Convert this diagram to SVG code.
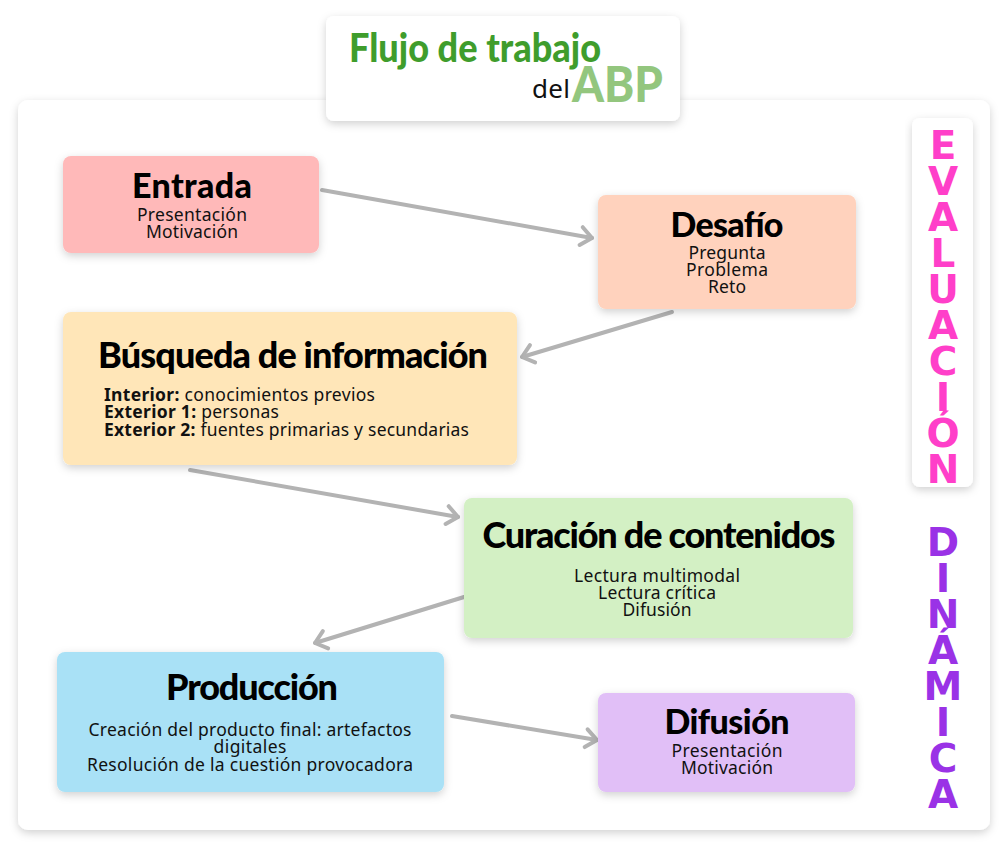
<svg xmlns="http://www.w3.org/2000/svg" width="1000" height="849" viewBox="0 0 1000 849">
<defs>
<filter id="sh" x="-10%" y="-10%" width="120%" height="130%">
<feDropShadow dx="0" dy="3" stdDeviation="4" flood-color="#000" flood-opacity="0.18"/>
</filter>
<marker id="arr" markerUnits="userSpaceOnUse" markerWidth="24" markerHeight="24" viewBox="0 0 24 24" refX="17" refY="12" orient="auto">
<path d="M6,3 L17,12 L6,21" fill="none" stroke="#b3b3b3" stroke-width="4" stroke-linecap="round" stroke-linejoin="round"/>
</marker>
</defs>
<style>
.box{filter:url(#sh)}
.t{font-family:Lato,"Noto Sans",sans-serif;font-weight:900;fill:#000;text-anchor:middle}
.b{font-family:"Noto Sans",sans-serif;font-weight:400;font-size:17.5px;fill:#111;text-anchor:middle}
.bl{font-family:"Noto Sans",sans-serif;font-weight:400;font-size:17.5px;fill:#111}
.k{font-weight:700}
.v{font-family:"DejaVu Sans",sans-serif;font-weight:700;font-size:39px;text-anchor:middle}
.c{fill:none;stroke:#b3b3b3;stroke-width:4;stroke-linecap:round;marker-end:url(#arr)}
</style>
<rect width="1000" height="849" fill="#ffffff"/>
<rect x="18" y="100" width="972" height="730" rx="10" fill="#ffffff" class="box"/>

<g id="title">
<rect x="326" y="16" width="354" height="105" rx="8" fill="#ffffff" class="box"/>
<text x="349" y="62" font-family="Lato,'Noto Sans',sans-serif" font-weight="900" font-size="40" fill="#3f9d2c" textLength="252" lengthAdjust="spacingAndGlyphs">Flujo de trabajo</text>
<text x="532" y="98" font-family="'Noto Sans',sans-serif" font-weight="400" font-size="26" fill="#111" textLength="38">del</text>
<text x="572" y="102" font-family="Lato,'Noto Sans',sans-serif" font-weight="900" font-size="50" fill="#93c67e" textLength="91" lengthAdjust="spacingAndGlyphs">ABP</text>
</g>

<g id="connectors">
<line class="c" x1="322" y1="190" x2="592" y2="238"/>
<line class="c" x1="672" y1="312" x2="522" y2="357"/>
<line class="c" x1="190" y1="470" x2="458" y2="517"/>
<line class="c" x1="464" y1="597" x2="315" y2="643"/>
<line class="c" x1="452" y1="716" x2="597" y2="740"/>
</g>

<g id="entrada">
<rect x="63" y="156" width="256" height="97" rx="8" fill="#ffb9b9" class="box"/>
<text class="t" x="192" y="198" font-size="34" textLength="120">Entrada</text>
<text class="b" x="192" y="221" textLength="110">Presentación</text>
<text class="b" x="192" y="238" textLength="92">Motivación</text>
</g>

<g id="desafio">
<rect x="598" y="195" width="258" height="114" rx="8" fill="#ffd2bd" class="box"/>
<text class="t" x="727" y="237" font-size="34" textLength="113">Desafío</text>
<text class="b" x="727" y="259" textLength="77">Pregunta</text>
<text class="b" x="727" y="276" textLength="82">Problema</text>
<text class="b" x="727" y="293" textLength="38">Reto</text>
</g>

<g id="busqueda">
<rect x="63" y="312" width="454" height="153" rx="8" fill="#ffe6b8" class="box"/>
<text class="t" x="293" y="368" font-size="36" textLength="390">Búsqueda de información</text>
<text class="bl" x="104" y="401" textLength="271"><tspan class="k">Interior:</tspan> conocimientos previos</text>
<text class="bl" x="104" y="418" textLength="175"><tspan class="k">Exterior 1:</tspan> personas</text>
<text class="bl" x="104" y="436" textLength="365"><tspan class="k">Exterior 2:</tspan> fuentes primarias y secundarias</text>
</g>

<g id="curacion">
<rect x="464" y="498" width="389" height="140" rx="8" fill="#d3f0c4" class="box"/>
<text class="t" x="659" y="548" font-size="36" textLength="353">Curación de contenidos</text>
<text class="b" x="657" y="582" textLength="166">Lectura multimodal</text>
<text class="b" x="657" y="599" textLength="118">Lectura crítica</text>
<text class="b" x="657" y="616" textLength="69">Difusión</text>
</g>

<g id="produccion">
<rect x="57" y="652" width="387" height="140" rx="8" fill="#a9e1f6" class="box"/>
<text class="t" x="252" y="700" font-size="36" textLength="172">Producción</text>
<text class="b" x="250" y="736" textLength="323">Creación del producto final: artefactos</text>
<text class="b" x="250" y="753" textLength="73">digitales</text>
<text class="b" x="250" y="771" textLength="326">Resolución de la cuestión provocadora</text>
</g>

<g id="difusion">
<rect x="598" y="693" width="257" height="99" rx="8" fill="#e1bff7" class="box"/>
<text class="t" x="727" y="734" font-size="34" textLength="125">Difusión</text>
<text class="b" x="727" y="757" textLength="111">Presentación</text>
<text class="b" x="727" y="774" textLength="92">Motivación</text>
</g>

<g id="evaluacion">
<rect x="912" y="118" width="61" height="369" rx="8" fill="#ffffff" class="box"/>
<g class="v" fill="#ff3fc9">
<text x="943" y="159">E</text>
<text x="943" y="195">V</text>
<text x="943" y="231">A</text>
<text x="943" y="267">L</text>
<text x="943" y="303">U</text>
<text x="943" y="339">A</text>
<text x="943" y="375">C</text>
<text x="943" y="411">I</text>
<text x="943" y="447">Ó</text>
<text x="943" y="483">N</text>
</g>
</g>

<g id="dinamica">
<g class="v" fill="#9a32e6">
<text x="943" y="556">D</text>
<text x="943" y="592">I</text>
<text x="943" y="628">N</text>
<text x="943" y="664">Á</text>
<text x="943" y="700">M</text>
<text x="943" y="736">I</text>
<text x="943" y="772">C</text>
<text x="943" y="808">A</text>
</g>
</g>
</svg>
